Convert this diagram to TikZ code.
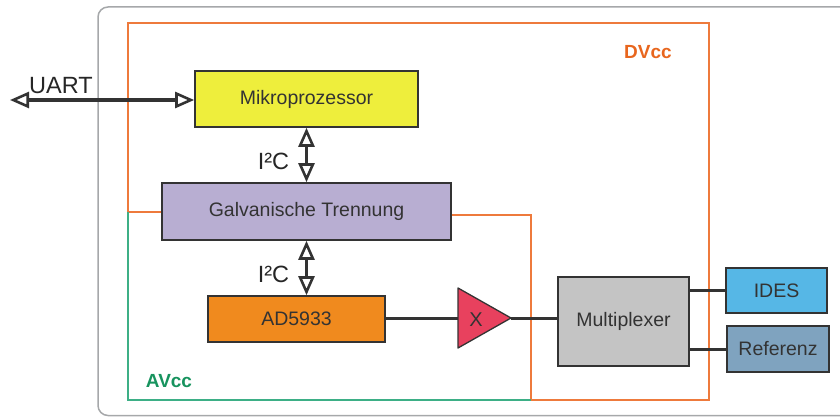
\documentclass[tikz,border=0pt]{standalone}
\usepackage{fontspec}
\setmainfont{Liberation Sans}
\usetikzlibrary{arrows.meta}

\definecolor{framegray}{HTML}{A6A8AA}
\definecolor{dvccorange}{HTML}{EE7A3C}
\definecolor{avccgreen}{HTML}{3DAF86}
\definecolor{avcctext}{HTML}{17935E}
\definecolor{dvcctext}{HTML}{E8661E}
\definecolor{edge}{HTML}{333333}
\definecolor{label}{HTML}{333333}
\definecolor{mcuyellow}{HTML}{EEEE3C}
\definecolor{isolilac}{HTML}{B8AED2}
\definecolor{adorange}{HTML}{F08A1E}
\definecolor{ampred}{HTML}{E8415E}
\definecolor{muxgray}{HTML}{C4C4C4}
\definecolor{idesblue}{HTML}{56B7E6}
\definecolor{refblue}{HTML}{7FA3BF}

\tikzset{
  blk/.style={draw=edge, line width=1.6pt, inner sep=0pt, text=label,
    font=\fontsize{19.5}{22}\selectfont},
  bushead/.tip={Triangle[open, length=19pt, width=16pt, line width=2.6pt]},
  bus/.style={draw=edge, line width=3.8pt, bushead-bushead},
  wire/.style={draw=edge, line width=3pt},
  supplyline/.style={line width=1.5pt},
  buslabel/.style={font=\fontsize{23.5}{26}\selectfont, text=black!85},
  domlabel/.style={font=\bfseries\fontsize{19}{22}\selectfont}
}

\begin{document}
\begin{tikzpicture}[x=1pt, y=-1pt]
\useasboundingbox (0,0) rectangle (840,417);
\begin{scope}
\clip (0,0) rectangle (840,417);

% housing outline, open to the right
\draw[framegray, line width=1.5pt, rounded corners=10pt] (880,7) -- (98,7) -- (98,415.5) -- (880,415.5);

% supply domains
\draw[supplyline, dvccorange] (162,212) -- (128,212) -- (128,23) -- (709,23) -- (709,400) -- (531,400) -- (531,215) -- (451,215);
\draw[supplyline, avccgreen] (128,212) -- (128,400) -- (531,400);
\node[domlabel, text=dvcctext] (dvcc) at (648,52) {DVcc};
\node[domlabel, text=avcctext] (avcc) at (169,381) {AVcc};

% function blocks
\node[blk, fill=mcuyellow, minimum width=223pt, minimum height=56pt] (mcu) at (306.5,99) {Mikroprozessor};
\node[blk, fill=isolilac, minimum width=289pt, minimum height=57pt] (iso) at (306.5,211.5) {Galvanische Trennung};
\node[blk, fill=adorange, minimum width=177pt, minimum height=46pt] (ad) at (296.5,319) {AD5933};
\node[blk, fill=muxgray, minimum width=131pt, minimum height=89pt] (mux) at (623.5,321.5) {Multiplexer};
\node[blk, fill=idesblue, minimum width=101pt, minimum height=45pt] (ides) at (776.5,290.5) {IDES};
\node[blk, fill=refblue, minimum width=102pt, minimum height=46pt] (ref) at (778,349) {Referenz};

% amplifier
\coordinate (ampin) at (458,318);
\coordinate (ampout) at (511,318);
\draw[wire] (ad.east |- ampin) -- (ampin);
\draw[wire] (ampout) -- (mux.west |- ampout);
\draw[draw=edge, line width=1.3pt, fill=ampred, line join=round] (458,288) -- (511,318) -- (458,348) -- cycle;
\node[font=\fontsize{20}{22}\selectfont, text=label] (ampx) at (476,320) {X};

% outputs
\draw[wire] (mux.east |- ides) -- (ides.west);
\draw[wire] (mux.east |- ref) -- (ref.west);

% buses
\coordinate (ext) at (10,100);
\draw[bus] (ext) -- (mcu.west |- ext);
\node[buslabel] (uart) at (61,86) {UART};
\draw[bus] (mcu.south) -- (iso.north);
\node[buslabel] (i2ca) at (273.5,161) {I²C};
\draw[bus] (iso.south) -- (iso.south |- ad.north);
\node[buslabel] (i2cb) at (273.5,274) {I²C};
\end{scope}
\end{tikzpicture}
\end{document}
